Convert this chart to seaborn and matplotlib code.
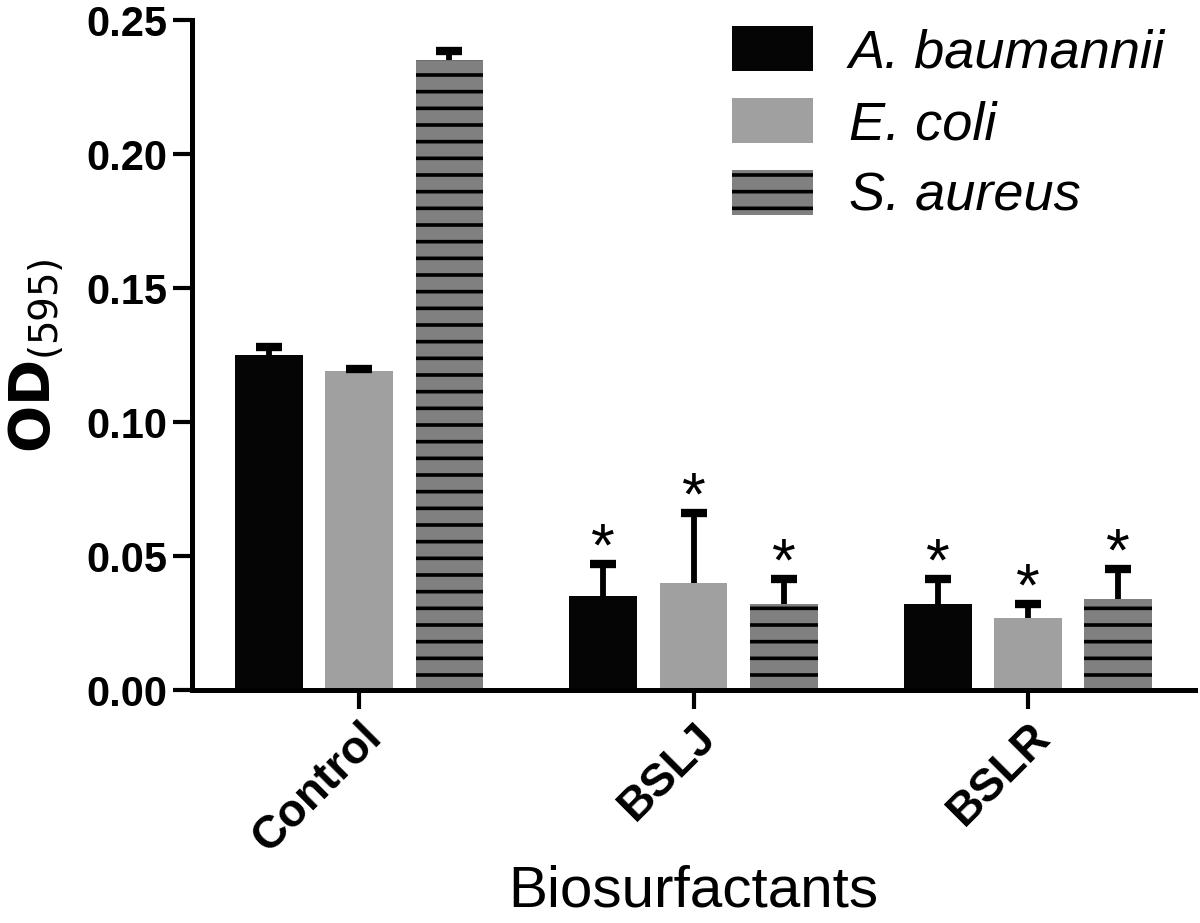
import matplotlib
matplotlib.use("Agg")
import matplotlib.pyplot as plt
import seaborn as sns
import numpy as np
import pandas as pd
from matplotlib.patches import Patch

groups = ["Control", "BSLJ", "BSLR"]
species = ["A. baumannii", "E. coli", "S. aureus"]
od_a_baumannii = [0.125, 0.035, 0.032]
od_e_coli = [0.119, 0.040, 0.027]
od_s_aureus = [0.235, 0.032, 0.034]
sd_a_baumannii = [0.003, 0.012, 0.0095]
sd_e_coli = [0.0008, 0.026, 0.005]
sd_s_aureus = [0.0035, 0.0095, 0.011]
significant = [[False, True, True], [False, True, True], [False, True, True]]
colors = ["#050505", "#a0a0a0", "#808080"]

rows = []
for sp, vals, sds in zip(species, [od_a_baumannii, od_e_coli, od_s_aureus],
                         [sd_a_baumannii, sd_e_coli, sd_s_aureus]):
    for g, v, s in zip(groups, vals, sds):
        rows.append({"group": g, "species": sp, "od": v, "sd": s})
df = pd.DataFrame(rows)

sns.set_style("ticks", {"axes.edgecolor": "black", "text.color": "black",
                        "xtick.color": "black", "ytick.color": "black",
                        "axes.labelcolor": "black"})
plt.rcParams["font.family"] = ["Liberation Sans", "DejaVu Sans"]
plt.rcParams["hatch.linewidth"] = 2.6

fig = plt.figure(figsize=(12, 9.23), dpi=100)
ax = fig.add_axes([0.16, 0.2524, 0.836, 0.7256])

sns.barplot(data=df, x="group", y="od", hue="species", order=groups,
            hue_order=species, palette=colors, errorbar=None,
            width=0.81, gap=0.25, saturation=1, legend=False, ax=ax)

bar_containers = list(ax.containers)
for i, cont in enumerate(bar_containers):
    sub = df[df["species"] == species[i]].set_index("group").loc[groups]
    for j, bar in enumerate(cont):
        bar.set_linewidth(0)
        if i == 2:
            bar.set_hatch("-")
            bar.set_edgecolor("black")
        xc = bar.get_x() + bar.get_width() / 2
        top = bar.get_height()
        err = sub["sd"].iloc[j]
        eb = ax.errorbar(xc, top, yerr=[[0], [err]], fmt="none", ecolor="black",
                         elinewidth=4.2, capsize=9.5, capthick=6, zorder=3)
        eb[1][0].set_visible(False)  # hide lower cap, only upper SD shown
        if significant[i][j]:
            ax.text(xc, top + err - 0.0005, "*", ha="center", va="baseline",
                    fontsize=44, color="black")

ax.set_xlim(-0.5, 2.5)
ax.set_ylim(0, 0.25)
ax.set_yticks([0.0, 0.05, 0.10, 0.15, 0.20, 0.25])
ax.set_yticklabels([f"{t:.2f}" for t in [0.0, 0.05, 0.10, 0.15, 0.20, 0.25]],
                   fontsize=30, fontweight="bold")
ax.set_xticks(range(len(groups)))
ax.set_xticklabels(groups, rotation=45, ha="right", rotation_mode="anchor",
                   fontsize=33, fontweight="bold")
sns.despine(ax=ax)
for s in ["left", "bottom"]:
    ax.spines[s].set_linewidth(3.6)
ax.tick_params(axis="both", length=14, width=3, color="black", pad=4)
ax.set_ylabel(r"$\mathbf{OD}_{(595)}$", fontsize=40)
ax.yaxis.set_label_coords(-0.127, 0.5)
ax.set_xlabel("Biosurfactants", fontsize=42, labelpad=2)

handles = [Patch(facecolor=colors[0], edgecolor=colors[0], linewidth=0),
           Patch(facecolor=colors[1], edgecolor=colors[1], linewidth=0),
           Patch(facecolor=colors[2], edgecolor="black", linewidth=0, hatch="-")]
leg = ax.legend(handles, species, loc="upper right", bbox_to_anchor=(1.018, 1.065),
                frameon=False, prop={"size": 39, "style": "italic"},
                handlelength=1.5, handleheight=0.92, handletextpad=0.65,
                labelspacing=0.36)

fig.savefig("out.png", dpi=100)
